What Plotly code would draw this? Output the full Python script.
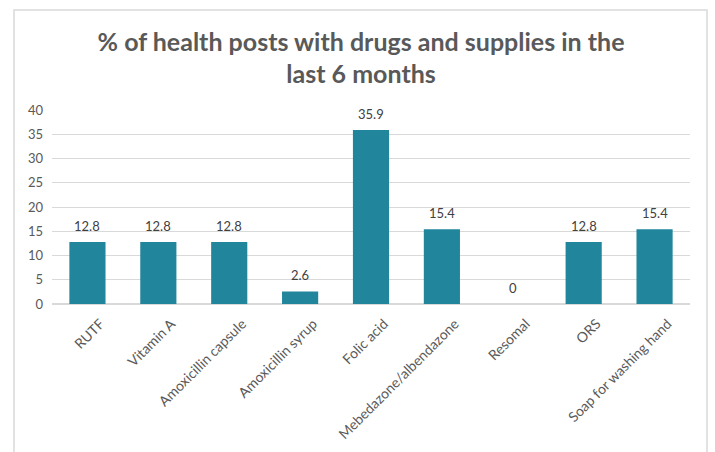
import plotly.graph_objects as go

categories = ["RUTF", "Vitamin A", "Amoxicillin capsule", "Amoxicillin syrup", "Folic acid",
              "Mebedazone/albendazone", "Resomal", "ORS", "Soap for washing hand"]
values = [12.8, 12.8, 12.8, 2.6, 35.9, 15.4, 0, 12.8, 15.4]
value_labels = ["12.8", "12.8", "12.8", "2.6", "35.9", "15.4", "0", "12.8", "15.4"]
y_ticks = [0, 5, 10, 15, 20, 25, 30, 35, 40]

FONT = "Lato, 'Open Sans', sans-serif"

fig = go.Figure(go.Bar(
    x=categories, y=values,
    marker=dict(color="#21859C", line=dict(width=0)),
))

annotations = [dict(x=c, y=v, text=t, showarrow=False, xref="x", yref="y",
                    yanchor="bottom", yshift=6,
                    font=dict(size=13, color="#404040", family=FONT))
               for c, v, t in zip(categories, values, value_labels)]

L, R, T, B = 52, 25, 110, 148
W, H = 715, 452
pw, ph = W - L - R, H - T - B

fig.update_layout(
    width=W, height=H,
    margin=dict(l=L, r=R, t=T, b=B),
    paper_bgcolor="white", plot_bgcolor="white",
    bargap=0.49,
    showlegend=False,
    font=dict(family=FONT, color="#595959"),
    title=dict(text="<b>% of health posts with drugs and supplies in the<br>last 6 months</b>",
               x=0.505, xanchor="center", y=0.888, yanchor="middle",
               font=dict(size=25, color="#595959", family=FONT)),
    xaxis=dict(tickangle=-45, tickfont=dict(size=14, color="#595959"),
               ticklabelstandoff=8, ticklabelshift=13, automargin=False,
               showgrid=False, showline=False, ticks=""),
    yaxis=dict(range=[0, 40], tickvals=y_ticks, showgrid=True, gridcolor="#d9d9d9",
               gridwidth=1, zeroline=True, zerolinecolor="#d9d9d9", zerolinewidth=2,
               tickfont=dict(size=13, color="#595959"), ticklabelstandoff=8,
               automargin=False, showline=False, ticks=""),
    annotations=annotations,
    shapes=[dict(type="rect", xref="paper", yref="paper",
                 x0=(14 - L) / pw, x1=(707 - L) / pw,
                 y0=-1.0, y1=(H - B - 10) / ph,
                 line=dict(color="#d9d9d9", width=1.5), layer="below")],
)

fig.write_html("out.html")
